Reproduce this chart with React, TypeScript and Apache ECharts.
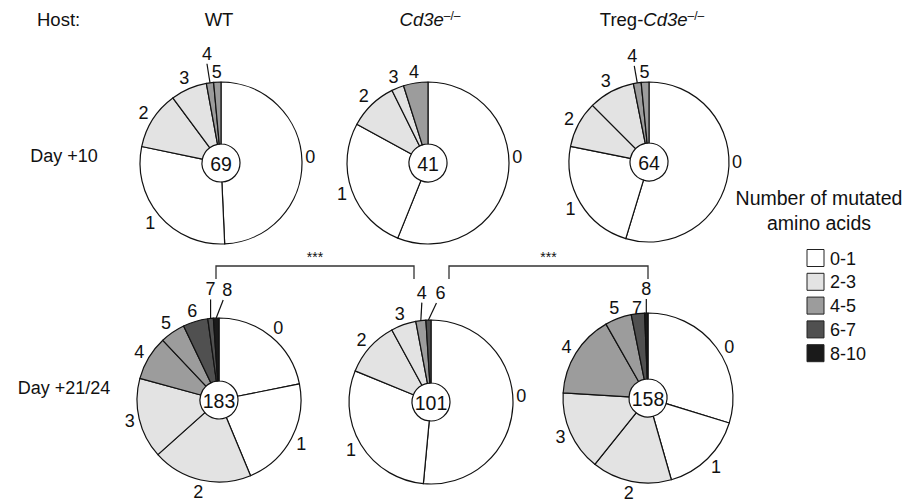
import React, { useEffect, useRef } from "react";
import * as echarts from "echarts";

// ---- data ----
const wtD10Cats = [0, 1, 2, 3, 4, 5];
const wtD10Counts = [34, 20, 8, 5, 1, 1];
const koD10Cats = [0, 1, 2, 3, 4];
const koD10Counts = [23, 11, 4, 1, 2];
const tregD10Cats = [0, 1, 2, 3, 4, 5];
const tregD10Counts = [35, 15, 6, 6, 1, 1];
const wtD21Cats = [0, 1, 2, 3, 4, 5, 6, 7, 8];
const wtD21Counts = [40, 40, 36, 29, 16, 9, 9, 2, 2];
const koD21Cats = [0, 1, 2, 3, 4, 6];
const koD21Counts = [52, 30, 11, 5, 2, 1];
const tregD21Cats = [0, 1, 2, 3, 4, 5, 7, 8];
const tregD21Counts = [47, 25, 24, 24, 25, 8, 4, 1];

const legendLabels = ["0-1", "2-3", "4-5", "6-7", "8-10"];
const legendColors = ["#ffffff", "#e3e3e3", "#9c9c9c", "#505050", "#1a1a1a"];
const rowLabels = ["Day +10", "Day +21/24"];
const significance = ["***", "***"];

const FONT = "'Liberation Sans', Arial, Helvetica, sans-serif";

// ---- layout (positions/styles) ----
type LabelOv = { dx?: number; dy?: number; line?: boolean; endDx?: number; angle?: number };
type PieCfg = {
  cats: number[];
  counts: number[];
  center: [number, number];
  r: number;
  ov: Record<number, LabelOv>;
};

const pies: PieCfg[] = [
  {
    cats: wtD10Cats, counts: wtD10Counts, center: [221, 163], r: 81,
    ov: { 0: { angle: 86 }, 4: { dx: -3, dy: -29, line: true, endDx: 0 } },
  },
  { cats: koD10Cats, counts: koD10Counts, center: [428, 163], r: 81, ov: { 0: { angle: 86 } } },
  {
    cats: tregD10Cats, counts: tregD10Counts, center: [649, 162], r: 80,
    ov: { 0: { angle: 90 }, 4: { dx: -5, dy: -27, line: true, endDx: 2 } },
  },
  {
    cats: wtD21Cats, counts: wtD21Counts, center: [219, 400], r: 82,
    ov: { 7: { dx: 0, dy: -29, line: true, endDx: 0 }, 8: { dx: 11, dy: -28, line: true, endDx: -4 } },
  },
  {
    cats: koD21Cats, counts: koD21Counts, center: [431, 402], r: 82,
    ov: { 0: { angle: 86 }, 4: { dx: 1, dy: -28, line: true, endDx: 0 }, 6: { dx: 12, dy: -27, line: true, endDx: -4 } },
  },
  {
    cats: tregD21Cats, counts: tregD21Counts, center: [648, 398], r: 85,
    ov: { 0: { angle: 58 }, 7: { dx: -1, dy: -6 }, 8: { dx: 0, dy: -24, line: true, endDx: 0 } },
  },
];

const colorOf = (cat: number) => legendColors[Math.min(4, Math.floor(cat / 2))];

function buildSeries(p: PieCfg, idx: number) {
  const [cx, cy] = p.center;
  return {
    type: "pie",
    id: "pie" + idx,
    center: [cx, cy],
    radius: [19, p.r],
    startAngle: 90,
    clockwise: true,
    avoidLabelOverlap: false,
    silent: true,
    itemStyle: { borderColor: "#111", borderWidth: 1.2 },
    label: {
      show: true,
      position: "outside",
      fontFamily: FONT,
      fontSize: 18,
      color: "#111",
      formatter: "{b}",
    },
    labelLine: { show: true, length: 6, length2: 0, lineStyle: { color: "#111", width: 1.2 } },
    labelLayout: (params: any) => {
      const cat = p.cats[params.dataIndex];
      const pts = params.labelLinePoints;
      const rect = params.labelRect;
      if (!pts || !pts[0]) return {};
      let p0 = pts[0];
      const o = p.ov[cat] || {};
      let ux: number, uy: number;
      if (o.angle != null) {
        const a = (o.angle * Math.PI) / 180;
        ux = Math.sin(a);
        uy = -Math.cos(a);
        p0 = [cx + ux * p.r, cy + uy * p.r];
      } else {
        const vx = p0[0] - cx;
        const vy = p0[1] - cy;
        const len = Math.hypot(vx, vy) || 1;
        ux = vx / len;
        uy = vy / len;
      }
      if (o.dx != null && o.dy != null) {
        const lx = p0[0] + o.dx;
        const ly = p0[1] + o.dy;
        const res: any = { x: lx, y: ly, align: "center", verticalAlign: "middle" };
        if (o.line) {
          res.labelLinePoints = [
            [p0[0], p0[1]],
            [lx + (o.endDx || 0), ly + 10],
          ];
        }
        return res;
      }
      const d = 3 + (Math.abs(ux) * rect.width) / 2 + Math.abs(uy) * (uy > 0 ? 8 : 7);
      return { x: p0[0] + ux * d, y: p0[1] + uy * d, align: "center", verticalAlign: "middle" };
    },
    data: p.counts.map((v, i) => {
      const cat = p.cats[i];
      const hasLine = !!(p.ov[cat] && p.ov[cat].line);
      return {
        name: String(cat),
        value: v,
        itemStyle: { color: colorOf(cat) },
        labelLine: { lineStyle: { opacity: hasLine ? 1 : 0 } },
      };
    }),
  };
}

export default function App() {
  const ref = useRef<HTMLDivElement>(null);
  useEffect(() => {
    document.body.style.margin = "0";
    const chart = echarts.init(ref.current!, undefined, { renderer: "svg" });

    const graphics: any[] = [];
    const txt = (x: number, y: number, text: string, size: number, extra: any = {}) => ({
      type: "text",
      x,
      y,
      silent: true,
      style: {
        text,
        fontFamily: FONT,
        fontSize: size,
        fill: "#111",
        align: "center",
        verticalAlign: "middle",
        ...extra,
      },
    });

    // column headers
    graphics.push(txt(37, 19, "Host:", 18.5, { align: "left" }));
    graphics.push(txt(219, 19, "WT", 18.5));
    graphics.push(
      txt(430, 19, "{i|Cd3e}{s|–/–}", 18.5, {
        rich: {
          i: { fontStyle: "italic", fontSize: 18.5, fontFamily: FONT, fill: "#111" },
          s: { fontSize: 12, fontFamily: FONT, verticalAlign: "top", fill: "#111" },
        },
      })
    );
    graphics.push(
      txt(652, 19, "{n|Treg-}{i|Cd3e}{s|–/–}", 18.5, {
        rich: {
          n: { fontSize: 18.5, fontFamily: FONT, fill: "#111" },
          i: { fontStyle: "italic", fontSize: 18.5, fontFamily: FONT, fill: "#111" },
          s: { fontSize: 12, fontFamily: FONT, verticalAlign: "top", fill: "#111" },
        },
      })
    );
    // row labels
    graphics.push(txt(64, 156, rowLabels[0], 18));
    graphics.push(txt(64, 388, rowLabels[1], 18));

    // center totals
    pies.forEach((p) => {
      const total = p.counts.reduce((a, b) => a + b, 0);
      graphics.push(txt(p.center[0], p.center[1] + 1, String(total), 19.5));
    });

    // significance brackets
    const brackets = [
      { x1: 216, x2: 414 },
      { x1: 449, x2: 648 },
    ];
    brackets.forEach((b, i) => {
      graphics.push({
        type: "polyline",
        silent: true,
        shape: { points: [[b.x1, 279], [b.x1, 266], [b.x2, 266], [b.x2, 279]] },
        style: { stroke: "#333", lineWidth: 1.3, fill: null },
      });
      graphics.push(txt((b.x1 + b.x2) / 2, 257, significance[i], 14));
    });

    // legend
    graphics.push(txt(819, 198, "Number of mutated", 19.5));
    graphics.push(txt(819, 223, "amino acids", 19.5));
    legendLabels.forEach((lab, i) => {
      const y = 258 + i * 23.8;
      graphics.push({
        type: "rect",
        silent: true,
        shape: { x: 807, y: y - 8.5, width: 17, height: 17 },
        style: { fill: legendColors[i], stroke: "#222", lineWidth: 1 },
      });
      graphics.push(txt(830, y + 0.5, lab, 18, { align: "left" }));
    });

    chart.setOption({
      animation: false,
      backgroundColor: "#ffffff",
      textStyle: { fontFamily: FONT },
      series: pies.map(buildSeries),
      graphic: graphics,
    });
    return () => chart.dispose();
  }, []);
  return <div ref={ref} style={{ width: 907, height: 504 }} />;
}
